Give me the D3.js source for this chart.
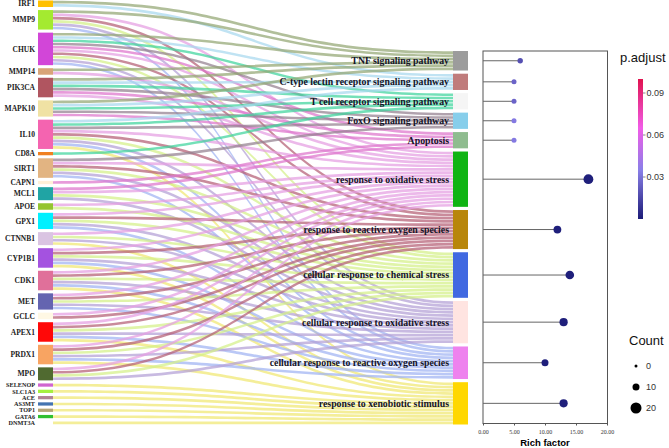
<!DOCTYPE html>
<html><head><meta charset="utf-8">
<script src="https://cdn.jsdelivr.net/npm/d3@7"></script>
<style>body{margin:0;background:#fff}svg{display:block}</style>
</head><body>
<svg id="c" width="669" height="448"></svg>
<script>
const genes = ["IRF1","MMP9","CHUK","MMP14","PIK3CA","MAPK10","IL10","CD8A","SIRT1","CAPN1","MCL1","APOE","GPX1","CTNNB1","CYP1B1","CDK1","MET","GCLC","APEX1","PRDX1","MPO","SELENOP","SLC1A3","ACE","AS3MT","TOP1","GATA6","DNMT3A"];
const geneColors = ["#ffc000","#a4ea30","#d246d8","#d8a478","#b05560","#f0e2a4","#f464b0","#f08020","#e2b482","#fff0d8","#20a4a4","#94c430","#00f0ff","#dac4e2","#a452e0","#e0709a","#6464b0","#fff8e4","#ff0808","#f8a462","#506a30","#d064d0","#a4f040","#b08494","#4474b0","#b4a474","#30c030","#ffffff"];
const pathways = ["TNF signaling pathway","C-type lectin receptor signaling pathway","T cell receptor signaling pathway","FoxO signaling pathway","Apoptosis","response to oxidative stress","response to reactive oxygen species","cellular response to chemical stress","cellular response to oxidative stress","cellular response to reactive oxygen species","response to xenobiotic stimulus"];
const pathwayColors = ["#9c9c9c","#c07c7c","#f5f5f5","#87ceeb","#8fbc8f","#10b414","#b8860b","#4169e1","#ffe4e1","#ee82ee","#ffd700"];
const linkColors = ["#93a673","#a8d8ee","#3ed49c","#93808f","#de74cc","#e49ee2","#b45e74","#d4f088","#b3a0d6","#9fb3f2","#f0e872"];
// gene -> pathway memberships (indices into pathways)
const geneLinks = [[0,1],[0,5,6,7,8,9],[0,1,2,3,4,5,6,7,8,9],[0,5],[0,1,2,3,4,5],[0,1,2,3,4],[1,2,3,5,6,7,8,9,10],[2],[3,5,6,7,8,9],[4],[4,5,7,8],[5,7],[5,6,7,8,9],[5,7,8,10],[5,6,7,8,9,10],[5,6,7,8,9,10],[5,6,7,8,9],[5,6],[5,6,7,8,9,10],[5,6,7,8,9,10],[5,6,7,8],[10],[10],[10],[10],[10],[10],[10]];
const richFactor = [6,5,5,5,5,17,12,14,13,10,13];
const counts = [6,5,5,5,5,17,12,14,13,10,13];
const pAdjust = [0.018,0.025,0.025,0.033,0.033,0.001,0.001,0.001,0.001,0.001,0.001];
const xTicks = [0,5,10,15,20];
const pTicks = [0.03,0.06,0.09];
const countTicks = [0,10,20];

const svg = d3.select("#c");
const total = d3.sum(geneLinks, d => d.length);
const L = {top:0.5, bottom:424.5, gap:3.05};
const R = {top:51, bottom:424.5};
const unit = d3.scaleLinear().domain([0,total]).range([0,(L.bottom-L.top)-L.gap*(genes.length-1)]);
const k = unit(1);
const gapR = ((R.bottom-R.top)-unit(total))/(pathways.length-1);

const gNodes = []; let y = L.top;
genes.forEach((g,i)=>{const h=unit(geneLinks[i].length); gNodes.push({name:g,y0:y,y1:y+h,color:geneColors[i],n:geneLinks[i].length}); y+=h+L.gap;});
gNodes.forEach((d,i)=>{const prev=gNodes[i-1],next=gNodes[i+1]; d.tight = d.n===1 && ((prev&&prev.n===1)||(next&&next.n===1));});
const pCount = pathways.map((p,j)=>d3.sum(geneLinks,d=>d.includes(j)?1:0));
const pNodes = []; y = R.top;
pathways.forEach((p,j)=>{const h=unit(pCount[j]); pNodes.push({name:p,y0:y,y1:y+h,color:pathwayColors[j]}); y+=h+gapR;});

const xL0=38,xL1=53,xR0=453,xR1=468;
const links=[]; const tOff=pNodes.map(n=>n.y0);
geneLinks.forEach((ps,i)=>{let so=gNodes[i].y0; ps.slice().sort((a,b)=>a-b).forEach(j=>{links.push({s:so,t:tOff[j],j}); so+=k; tOff[j]+=k;});});
const lg = svg.append("g");
lg.selectAll("path").data(links).join("path")
  .attr("d",d=>{const x0=xL1,x1=xR0,xm=(x0+x1)/2; const a=d.s+0.3,b=d.s+k-0.3,c=d.t+0.3,e=d.t+k-0.3;
    return `M${x0},${a}C${xm},${a} ${xm},${c} ${x1},${c}L${x1},${e}C${xm},${e} ${xm},${b} ${x0},${b}Z`;})
  .attr("fill",d=>linkColors[d.j]).attr("fill-opacity",0.72);

svg.append("g").selectAll("rect").data(gNodes).join("rect")
  .attr("x",xL0).attr("width",xL1-xL0).attr("y",d=>d.y0).attr("height",d=>d.y1-d.y0).attr("fill",d=>d.color);
svg.append("g").selectAll("rect").data(pNodes).join("rect")
  .attr("x",xR0).attr("width",xR1-xR0).attr("y",d=>d.y0).attr("height",d=>d.y1-d.y0).attr("fill",d=>d.color);

svg.append("g").selectAll("text").data(gNodes).join("text")
  .attr("x",35).attr("y",d=>(d.y0+d.y1)/2).attr("dy","0.35em").attr("text-anchor","end")
  .attr("font-family","Liberation Serif, Times New Roman, serif").attr("font-weight","bold")
  .attr("font-size",d=>d.tight?6.2:7.5).attr("fill","#222")
  .text(d=>d.name);
svg.append("g").selectAll("text").data(pNodes).join("text")
  .attr("x",449).attr("y",d=>(d.y0+d.y1)/2).attr("dy","0.35em").attr("text-anchor","end")
  .attr("font-family","Liberation Serif, Times New Roman, serif").attr("font-weight","bold").attr("font-size",9.8).attr("fill","#141428")
  .text(d=>d.name);

const px = d3.scaleLinear().domain([0,20]).range([483,607]);
const col = d3.scaleLinear().domain([0,0.035,0.065,0.1]).range(["#1c1c78","#8a7fe8","#f25ce8","#e0124f"]);
const rs = d3.scaleLinear().domain([0,20]).range([1.5,5.5]);
const pg = svg.append("g");
pg.append("rect").attr("x",483).attr("y",51).attr("width",124.5).attr("height",372.5).attr("fill","none").attr("stroke","#555").attr("stroke-width",1);
pNodes.forEach((n,j)=>{const cy=(n.y0+n.y1)/2;
  pg.append("line").attr("x1",px(0)).attr("x2",px(richFactor[j])).attr("y1",cy).attr("y2",cy).attr("stroke","#666").attr("stroke-width",1);
  pg.append("circle").attr("cx",px(richFactor[j])).attr("cy",cy).attr("r",rs(counts[j])).attr("fill",col(pAdjust[j]));
});
const xa = svg.append("g").attr("transform","translate(0,423.5)").call(d3.axisBottom(px).tickValues(xTicks).tickFormat(d3.format(".2f")).tickSize(2));
xa.select(".domain").remove();
xa.selectAll("line").attr("stroke","#555");
xa.selectAll("text").attr("font-family","Liberation Serif, Times New Roman, serif").attr("font-size",6).attr("fill","#333").attr("dy","0.9em");
svg.append("text").attr("x",545).attr("y",446).attr("text-anchor","middle").attr("font-family","Liberation Sans, Arial, sans-serif").attr("font-weight","bold").attr("font-size",9.5).text("Rich factor");

svg.append("text").attr("x",620).attr("y",62).attr("font-family","Liberation Sans, Arial, sans-serif").attr("font-size",13).attr("fill","#111").text("p.adjust");
const defs = svg.append("defs"); const gr = defs.append("linearGradient").attr("id","pg").attr("x1",0).attr("x2",0).attr("y1",1).attr("y2",0);
d3.range(0,1.0001,0.05).forEach(t=>gr.append("stop").attr("offset",t).attr("stop-color",col(t*0.1)));
const cy = d3.scaleLinear().domain([0,0.1]).range([219,79]);
svg.append("rect").attr("x",638).attr("y",cy(0.1)).attr("width",5).attr("height",cy(0)-cy(0.1)).attr("fill","url(#pg)");
pTicks.forEach(t=>{svg.append("line").attr("x1",643).attr("x2",645.5).attr("y1",cy(t)).attr("y2",cy(t)).attr("stroke","#888");
  svg.append("text").attr("x",646.5).attr("y",cy(t)).attr("dy","0.35em").attr("font-family","Liberation Sans, Arial, sans-serif").attr("font-size",9).attr("fill","#333").text(d3.format(".2f")(t));});

svg.append("text").attr("x",629).attr("y",345).attr("font-family","Liberation Sans, Arial, sans-serif").attr("font-size",13).attr("fill","#111").text("Count");
const ly = d3.scaleLinear().domain([0,20]).range([366,408]);
countTicks.forEach(c=>{svg.append("circle").attr("cx",636).attr("cy",ly(c)).attr("r",rs(c)).attr("fill","#000");
  svg.append("text").attr("x",646).attr("y",ly(c)).attr("dy","0.35em").attr("font-family","Liberation Sans, Arial, sans-serif").attr("font-size",9).attr("fill","#333").text(c);});
</script>
</body></html>
